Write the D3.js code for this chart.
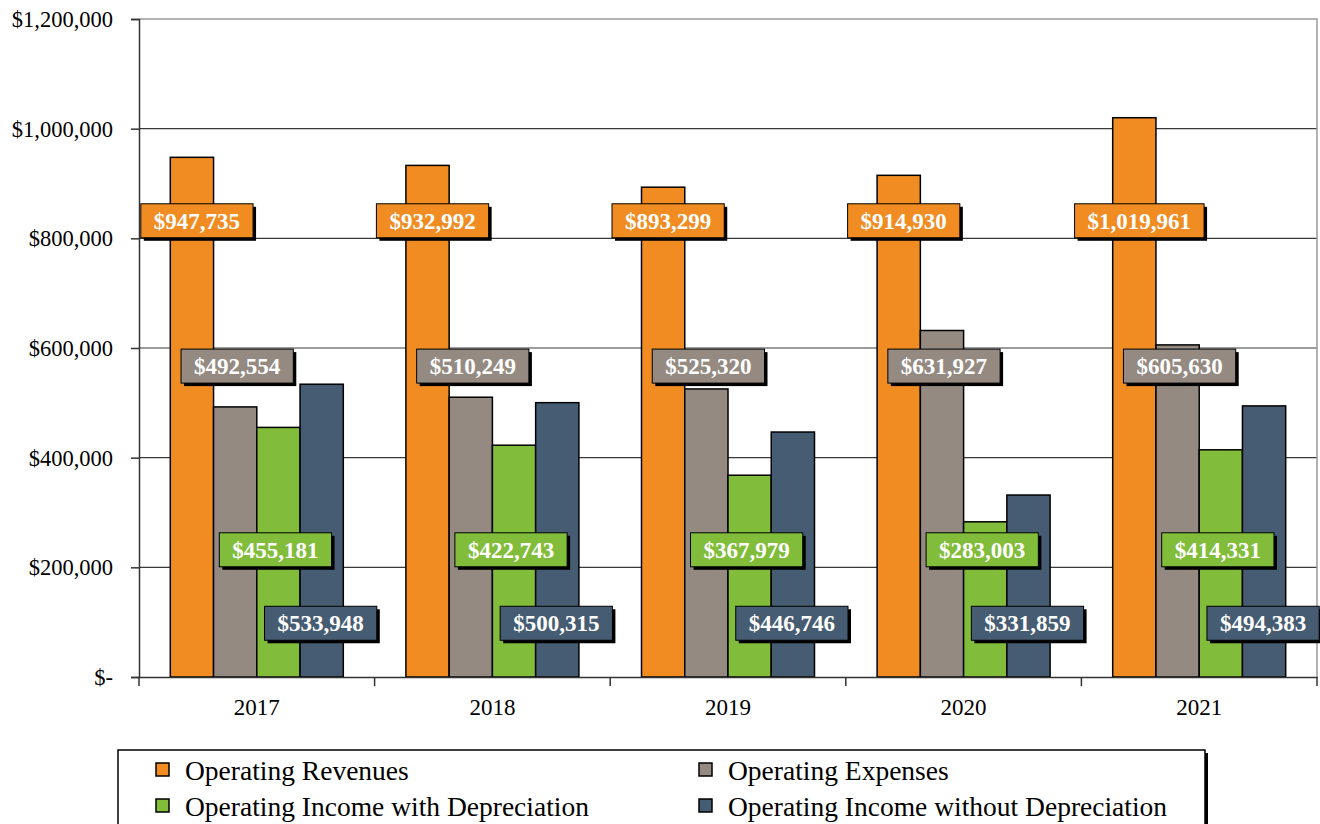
<!DOCTYPE html>
<html>
<head>
<meta charset="utf-8">
<script src="https://cdn.jsdelivr.net/npm/d3@7"></script>
<style>
  html, body { margin: 0; padding: 0; background: #fff; }
  svg { display: block; }
  text { font-family: "Liberation Serif", "Times New Roman", serif; }
</style>
</head>
<body>
<svg id="chart" width="1320" height="824"></svg>
<script>
const years = ["2017", "2018", "2019", "2020", "2021"];
const seriesNames = ["Operating Revenues", "Operating Expenses", "Operating Income with Depreciation", "Operating Income without Depreciation"];
const operatingRevenues = [947735, 932992, 893299, 914930, 1019961];
const operatingExpenses = [492554, 510249, 525320, 631927, 605630];
const incomeWithDep = [455181, 422743, 367979, 283003, 414331];
const incomeWithoutDep = [533948, 500315, 446746, 331859, 494383];
const yTicks = [0, 200000, 400000, 600000, 800000, 1000000, 1200000];
const seriesColors = ["#F08C22", "#948A82", "#82BC3B", "#465C72"];

const seriesValues = [operatingRevenues, operatingExpenses, incomeWithDep, incomeWithoutDep];
// label anchor levels (value units) per series, like manually placed labels
const labelLevels = [832000, 567000, 232000, 98000];
const labelDx = [5, 2, -3, -1];

const svg = d3.select("#chart");
const L = 139, R = 1317, T = 19, B = 677;

const x0 = d3.scaleBand().domain(years).range([L, R]).padding(0);
const x1 = d3.scaleBand().domain(d3.range(4)).range([31.3, x0.bandwidth() - 31.3]).padding(0);
const y = d3.scaleLinear().domain([0, 1200000]).range([B, T]);

// gridlines
svg.append("g").selectAll("line").data(yTicks.slice(1, -1)).join("line")
  .attr("x1", L).attr("x2", R).attr("y1", d => y(d)).attr("y2", d => y(d))
  .attr("stroke", "#3a3a3a").attr("stroke-width", 1.2);
// plot border top/right
svg.append("path").attr("d", `M${L},${y(1200000)}H${R}V${B}`)
  .attr("fill", "none").attr("stroke", "#9a9a9a").attr("stroke-width", 1.5);

// bars
const fmt = d3.format(",");
const data = [];
years.forEach((yr, i) => seriesValues.forEach((arr, s) => data.push({ yr, s, v: arr[i] })));

svg.append("g").selectAll("rect").data(data).join("rect")
  .attr("x", d => x0(d.yr) + x1(d.s))
  .attr("width", x1.bandwidth())
  .attr("y", d => y(d.v))
  .attr("height", d => y(0) - y(d.v))
  .attr("fill", d => seriesColors[d.s])
  .attr("stroke", "#000").attr("stroke-width", 1.5);

// y axis
const yAxis = d3.axisLeft(y).tickValues(yTicks).tickSizeOuter(0).tickSize(8).tickPadding(18)
  .tickFormat(d => d === 0 ? "$-" : "$" + fmt(d));
const gy = svg.append("g").attr("transform", `translate(${L},0)`).call(yAxis);
gy.select(".domain").attr("stroke", "#333").attr("stroke-width", 1.5);
gy.selectAll(".tick line").attr("stroke", "#333").attr("stroke-width", 1.5);
gy.selectAll(".tick text").attr("font-size", "22.5px").attr("fill", "#000")
  .attr("font-family", "Liberation Serif, serif").attr("dy", "0.33em");

// x axis
const xAxis = d3.axisBottom(x0).tickSize(0).tickPadding(0);
const gx = svg.append("g").attr("transform", `translate(0,${B})`).call(xAxis);
gx.select(".domain").attr("stroke", "#333").attr("stroke-width", 1.5);
gx.selectAll(".tick text").attr("font-size", "23px").attr("fill", "#000")
  .attr("font-family", "Liberation Serif, serif").attr("y", 38).attr("dy", 0);
// category boundary ticks
const bounds = years.map(yr => x0(yr)).concat([R]);
gx.selectAll("line.bt").data(bounds).join("line").attr("class", "bt")
  .attr("x1", d => d).attr("x2", d => d).attr("y1", 0).attr("y2", 9)
  .attr("stroke", "#333").attr("stroke-width", 1.5);

// data labels
const lg = svg.append("g");
data.forEach(d => {
  const cx = x0(d.yr) + x1(d.s) + x1.bandwidth() / 2 + labelDx[d.s];
  const cy = y(labelLevels[d.s]);
  const g = lg.append("g");
  const t = g.append("text")
    .attr("x", cx).attr("y", cy).attr("dy", "0.35em")
    .attr("text-anchor", "middle")
    .attr("font-size", "23px").attr("font-weight", "bold").attr("fill", "#fff")
    .text("$" + fmt(d.v));
  const w = t.node().getComputedTextLength() + 26;
  const h = 34;
  g.insert("rect", "text").attr("x", cx - w / 2 + 3).attr("y", cy - h / 2 + 3)
    .attr("width", w).attr("height", h).attr("fill", "#000");
  g.insert("rect", "text").attr("x", cx - w / 2).attr("y", cy - h / 2)
    .attr("width", w).attr("height", h).attr("fill", seriesColors[d.s])
    .attr("stroke", "#000").attr("stroke-width", 1);
});

// legend
const legX = 118, legY = 750, legW = 1087, legH = 100;
svg.append("rect").attr("x", legX + 3).attr("y", legY + 3).attr("width", legW).attr("height", legH).attr("fill", "#000");
svg.append("rect").attr("x", legX).attr("y", legY).attr("width", legW).attr("height", legH)
  .attr("fill", "#fff").attr("stroke", "#000").attr("stroke-width", 1.5);
const legPos = [[156, 0], [699, 0], [156, 1], [699, 1]];
seriesNames.forEach((name, i) => {
  const [lx, row] = legPos[i];
  const by = 780 + row * 36;
  svg.append("rect").attr("x", lx).attr("y", by - 17).attr("width", 13).attr("height", 13)
    .attr("fill", seriesColors[i]).attr("stroke", "#000").attr("stroke-width", 1.5);
  svg.append("text").attr("x", lx + 29).attr("y", by)
    .attr("font-size", "27.5px").attr("fill", "#000").text(name);
});
</script>
</body>
</html>
